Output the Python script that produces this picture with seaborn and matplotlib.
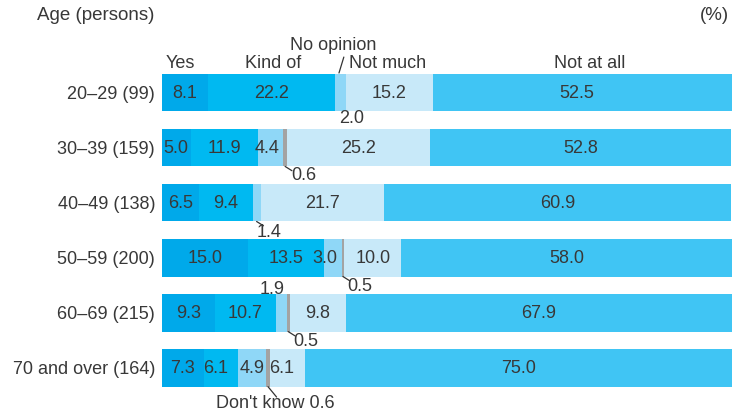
import matplotlib.pyplot as plt
import numpy as np
import pandas as pd
import seaborn as sns

ages = ["20–29 (99)", "30–39 (159)", "40–49 (138)", "50–59 (200)",
        "60–69 (215)", "70 and over (164)"]
answers = ["Yes", "Kind of", "No opinion", "Don't know", "Not much", "Not at all"]

yes = [8.1, 5.0, 6.5, 15.0, 9.3, 7.3]
kind_of = [22.2, 11.9, 9.4, 13.5, 10.7, 6.1]
no_opinion = [2.0, 4.4, 1.4, 3.0, 1.9, 4.9]
dont_know = [0.0, 0.6, 0.0, 0.5, 0.5, 0.6]
not_much = [15.2, 25.2, 21.7, 10.0, 9.8, 6.1]
not_at_all = [52.5, 52.8, 60.9, 58.0, 67.9, 75.0]

colors = ["#00a9ea", "#00b9f1", "#8fd7f7", "#a3a3a3", "#c8e9f9", "#40c5f4"]
TXT = "#383838"
FS = 13


def main():
    sns.set_theme(style="white")
    plt.rcParams['font.family'] = ['Liberation Sans', 'DejaVu Sans']

    vals = np.array([yes, kind_of, no_opinion, dont_know, not_much, not_at_all]).T
    cum = np.cumsum(vals, axis=1)
    df = pd.DataFrame(cum, columns=answers)
    df["age"] = ages

    fig = plt.figure(figsize=(7.34, 4.13), dpi=100)
    ax = fig.add_axes([162 / 734, 0, 570 / 734, (413 - 65) / 413])

    # stacked bars: draw cumulative totals from the widest one down
    for i in reversed(range(len(answers))):
        sns.barplot(data=df, x=answers[i], y="age", color=colors[i],
                    orient="h", width=0.684, saturation=1, linewidth=0, ax=ax)

    ax.set_xlim(0, 100)
    ax.set_ylim(5.82, -0.5)
    sns.despine(ax=ax, left=True, bottom=True)
    ax.set_xticks([])
    ax.set_xlabel("")
    ax.set_ylabel("")
    ax.tick_params(axis="y", length=0, pad=5, labelsize=FS, labelcolor=TXT)

    # values inside segments (small offsets where the original is off-centre)
    hidden = {(0, 2), (0, 3), (1, 3), (2, 2), (2, 3), (3, 3), (4, 2), (4, 3), (5, 3)}
    shift = {(1, 2): -0.7, (3, 2): -1.4, (5, 1): -1.0, (5, 4): -0.9, (0, 5): -0.9}
    for r in range(len(ages)):
        for c in range(len(answers)):
            if (r, c) in hidden:
                continue
            x = cum[r, c] - vals[r, c] / 2 + shift.get((r, c), 0)
            ax.text(x, r + 0.02, f"{vals[r, c]:.1f}", ha="center", va="center",
                    fontsize=FS, color=TXT)

    # small segments labelled outside: (row, col, dx, dy, leader)
    outside = [(0, 2, 1.9, 0.48, False), (1, 3, 3.3, 0.50, True),
               (2, 2, 2.2, 0.55, True), (3, 3, 2.9, 0.53, True),
               (4, 2, -1.65, -0.43, False), (4, 3, 3.1, 0.52, True)]
    for r, c, dx, dy, leader in outside:
        xc = cum[r, c] - vals[r, c] / 2
        if leader:
            ax.plot([xc, xc + 1.2], [r + 0.342, r + 0.42], color="#333333", lw=0.9)
        ax.text(xc + dx, r + dy, f"{vals[r, c]:.1f}", ha="center", va="center",
                fontsize=FS, color=TXT)

    xc = cum[5, 3] - vals[5, 3] / 2
    ax.plot([xc, xc + 1.5], [5.342, 5.53], color="#333333", lw=0.9, clip_on=False)
    ax.text(xc + 1.2, 5.64, f"Don't know {vals[5, 3]:.1f}", ha="center",
            va="center", fontsize=FS, color=TXT)

    # answer headers above the first bar
    head_x = {"Yes": 3.2, "Kind of": 19.5, "Not much": 39.6, "Not at all": 75.1}
    for name, x in head_x.items():
        ax.text(x, -0.535, name, ha="center", va="center", fontsize=FS, color=TXT)
    ax.text(30.0, -0.862, "No opinion", ha="center", va="center", fontsize=FS,
            color=TXT)
    ax.plot([31.05, 31.9], [-0.355, -0.644], color="#333333", lw=0.9, clip_on=False)

    fig.text(37 / 734, 1 - 15 / 413, "Age (persons)", ha="left", va="center",
             fontsize=FS + 0.5, color=TXT)
    fig.text(714 / 734, 1 - 15 / 413, "(%)", ha="center", va="center",
             fontsize=FS + 0.5, color=TXT)

    fig.savefig("out.png", dpi=100)


if __name__ == "__main__":
    main()
